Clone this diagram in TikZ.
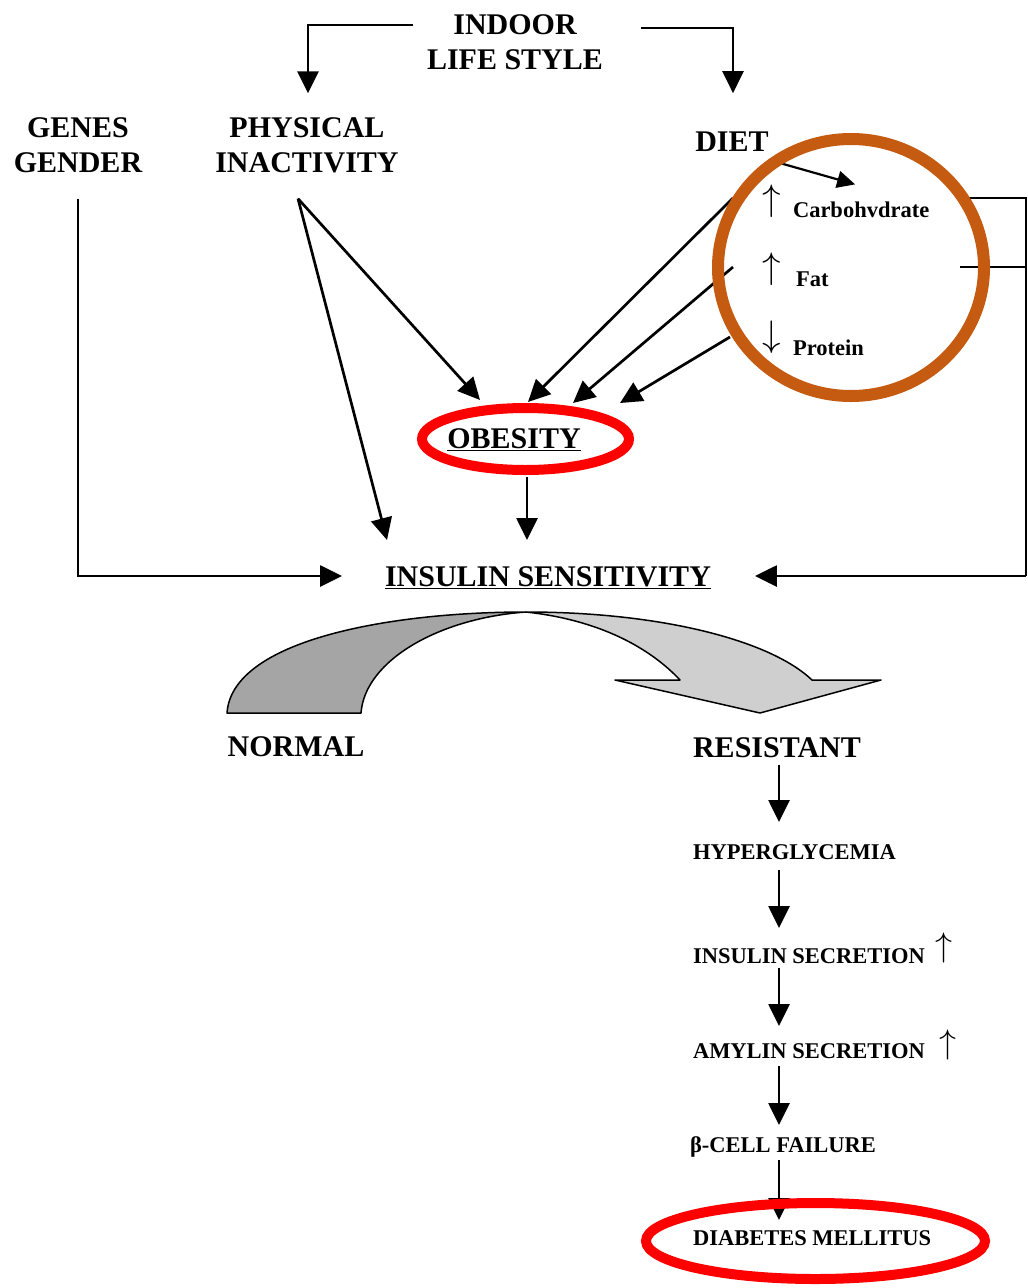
\RequirePackage{fix-cm}
\documentclass[tikz,border=0pt]{standalone}
\usepackage{fontspec}
\setmainfont{Liberation Serif}
\usetikzlibrary{arrows.meta,calc,shapes.geometric}
\definecolor{ringorange}{RGB}{197,90,17}
\definecolor{ringred}{RGB}{255,0,0}
\definecolor{darkband}{RGB}{165,165,165}
\definecolor{lightband}{RGB}{207,207,207}
\begin{document}
\begin{tikzpicture}[x=1pt,y=-1pt,
  lbl/.style={font=\fontsize{30}{35}\selectfont\bfseries, inner sep=0pt, outer sep=0pt, align=center},
  sm/.style={font=\fontsize{22.5}{27}\selectfont\bfseries, inner sep=0pt, outer sep=0pt},
  glyph/.style={inner sep=0pt, outer sep=0pt, font=\fontsize{37}{37}\selectfont},
  arr/.style={line width=2.7pt, -{Triangle[width=21pt,length=22pt]}},
  smallarr/.style={line width=2.2pt, -{Triangle[width=17pt,length=18pt]}},
  ln/.style={line width=2.7pt},
  band/.style={line width=1.5pt, line join=round},
  ring/.style={ellipse, inner sep=0pt, outer sep=0pt},
]
\useasboundingbox (0,0) rectangle (1028,1288);

% ---- labels ----
\node[lbl] (indoor) at (515,42.5) {INDOOR\\LIFE STYLE};
\node[lbl] (genes) at (78,145) {GENES\\GENDER};
\node[lbl] (phys) at (307,145) {PHYSICAL\\INACTIVITY};
\node[lbl] (diet) at (732,142) {DIET};
\node[lbl,anchor=base] (obesity) at (514,448) {\underline{OBESITY}};
\node[lbl,anchor=base] (insul) at (548,586) {\underline{INSULIN SENSITIVITY}};
\node[lbl] (normal) at (296,747) {NORMAL};
\node[lbl] (resist) at (777,748) {RESISTANT};

% diet items
\node[glyph] (carbup) at (772,201.5) {$\uparrow$};
\node[sm,anchor=base west] (carb) at (793,217) {Carbohvdrate};
\node[glyph] (fatup) at (772,269.5) {$\uparrow$};
\node[sm,anchor=base west] (fat) at (796,286) {Fat};
\node[glyph] (protdown) at (772,337.5) {$\downarrow$};
\node[sm,anchor=base west] (prot) at (793,355) {Protein};

% chain
\coordinate (chainx) at (779,0);
\node[sm,anchor=base west] (hyper) at (693,859) {HYPERGLYCEMIA};
\node[sm,anchor=base west] (inssec) at (693,963) {INSULIN SECRETION};
\node[glyph,font=\fontsize{34}{34}\selectfont] (insup) at (944,948) {$\uparrow$};
\node[sm,anchor=base west] (amy) at (693,1058) {AMYLIN SECRETION};
\node[glyph,font=\fontsize{34}{34}\selectfont] (amyup) at (948,1045) {$\uparrow$};
\node[sm,anchor=base west] (beta) at (690,1152) {β-CELL FAILURE};
\node[sm,anchor=base west] (dm) at (693,1245) {DIABETES MELLITUS};

% ---- connectors ----
\draw[arr] ($(indoor.west)+(-14,-17.5)$) -| ($(phys.north)+(1,-24)$);
\draw[arr] ($(indoor.east)+(38,-14.5)$) -| ($(diet.north)+(1,-39)$);
\draw[smallarr] ($(diet.south east)+(0,8)$) -- ($(carb.north)+(-6,-17)$);

\coordinate (pS) at ($(phys.south)+(-9,26)$);
\draw[arr] (pS) -- ($(obesity.base)+(-34,-48)$);
\draw[arr] (pS) -- ($(insul.base west)+(2,-46)$);

\draw[arr] ($(carbup.center)+(-39,-3.5)$) -- ($(obesity.base)+(14,-46)$);
\draw[arr] ($(fatup.center)+(-39,-2.5)$) -- ($(obesity.base)+(59,-45)$);
\draw[arr] ($(protdown.center)+(-42,-0.5)$) -- ($(obesity.base)+(106,-45)$);

\draw[arr] ($(obesity.base)+(13,29)$) -- ($(insul.base)+(-21,-46)$);
\draw[arr] ($(genes.south)+(0,26)$) |- ($(insul.base west)+(-43,-10)$);

\coordinate (rbus) at (1026,576);
\coordinate (carbL) at ($(carb.base east)+(40,-19)$);
\coordinate (fatL) at ($(fat.base east)+(132,-19)$);
\draw[ln] (carbL) -| (rbus);
\draw[ln] (fatL) -- (fatL -| rbus);
\draw[arr] (rbus) -- ($(insul.base east)+(44,-10)$);

% chain arrows
\draw[arr] ($(resist.base -| chainx)+(0,7)$) -- ($(hyper.base -| chainx)+(0,-37)$);
\draw[arr] ($(hyper.base -| chainx)+(0,11)$) -- ($(inssec.base -| chainx)+(0,-35)$);
\draw[arr] ($(inssec.base -| chainx)+(0,5)$) -- ($(amy.base -| chainx)+(0,-32)$);
\draw[arr] ($(amy.base -| chainx)+(0,8)$) -- ($(beta.base -| chainx)+(0,-27)$);
\draw[arr] ($(beta.base -| chainx)+(0,8)$) -- ($(dm.base -| chainx)+(0,-25)$);

% ---- curved block arrow ----
\draw[band, fill=darkband] (227,713) .. controls (232,640) and (390,612) .. (526,612)
  .. controls (440,618) and (365,660) .. (361,713) -- cycle;
\draw[band, fill=lightband] (526,612) .. controls (660,612) and (770,640) .. (812,680)
  -- (881,680) -- (760,713) -- (615,680) -- (680,680)
  .. controls (650,648) and (600,620) .. (526,612) -- cycle;

% ---- highlight rings ----
\node[ring, draw=ringorange, line width=12pt, minimum width=266pt, minimum height=257pt] (dietring) at (851,267.5) {};
\node[ring, draw=ringred, line width=10pt, minimum width=207pt, minimum height=62pt] (obring) at (525.5,439) {};
\node[ring, draw=ringred, line width=10pt, minimum width=339pt, minimum height=76pt] (dmring) at (815.5,1241) {};
\end{tikzpicture}
\end{document}
